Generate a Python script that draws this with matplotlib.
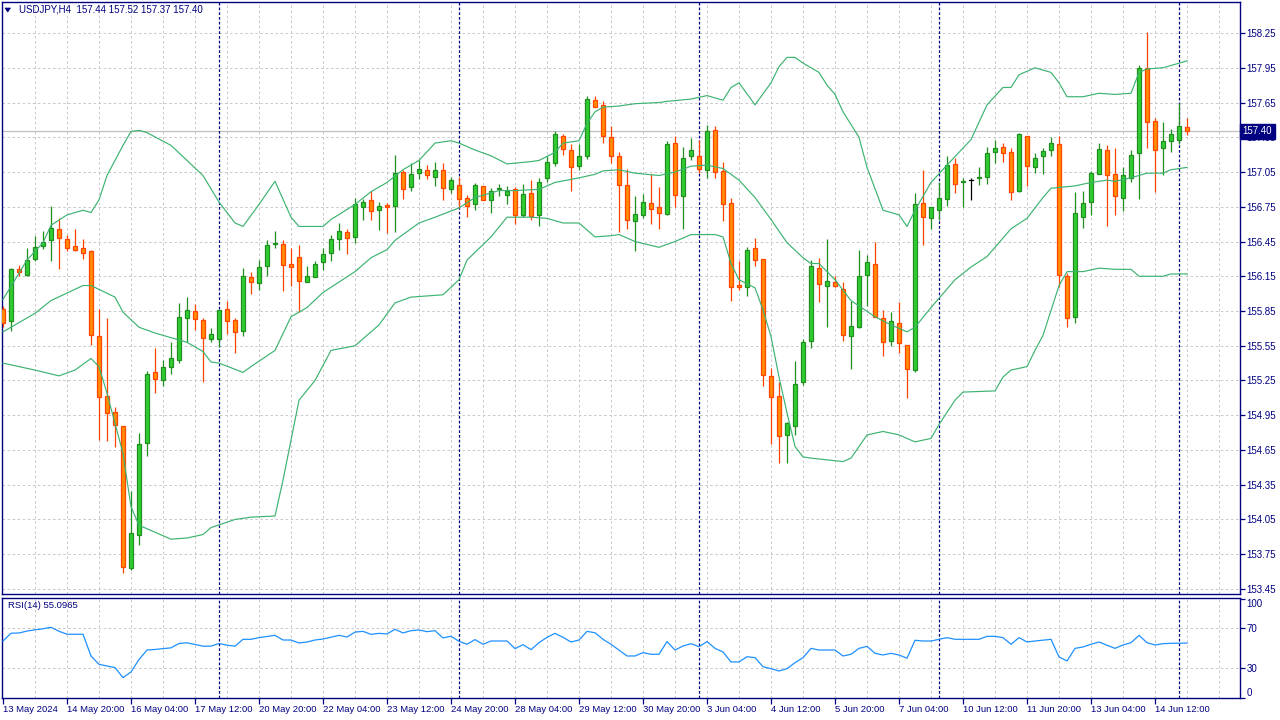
import matplotlib
matplotlib.use("Agg")
import matplotlib.pyplot as plt
import matplotlib.transforms as mtransforms
from matplotlib.patches import Rectangle, Polygon

plt.rcParams['font.family'] = ['Liberation Sans', 'DejaVu Sans']

# ---------------- data (USDJPY, H4) ----------------
opens = [155.865,155.76,156.21,156.16,156.30,156.41,156.46,156.56,156.47,156.41,
         156.39,156.37,155.63,155.12,154.98,154.86,153.63,153.92,154.71,155.32,
         155.25,155.37,155.43,155.79,155.85,155.77,155.61,155.61,155.87,155.77,
         155.68,156.14,156.09,156.24,156.43,156.43,156.26,156.32,156.10,156.14,
         156.27,156.35,156.47,156.53,156.49,156.75,156.81,156.72,156.765,156.76,
         157.05,156.92,157.04,157.07,157.01,157.07,156.90,156.94,156.83,156.77,
         156.93,156.81,156.90,156.85,156.90,156.68,156.87,156.68,157.00,157.13,
         157.36,157.24,157.10,157.19,157.67,157.63,157.35,157.19,156.94,156.63,
         156.68,156.78,156.745,156.69,157.30,156.84,157.19,157.19,157.07,157.41,
         157.06,156.78,156.075,156.06,156.39,156.30,155.29,155.12,154.78,154.86,
         155.24,155.59,156.22,156.07,156.10,156.04,155.63,155.71,156.16,156.26,
         155.79,155.59,155.75,155.56,155.34,156.78,156.65,156.72,156.82,157.12,
         156.965,156.98,157.00,157.01,157.22,157.27,157.22,156.89,157.36,157.09,
         157.19,157.24,157.29,156.15,155.80,156.66,156.79,157.03,157.24,157.03,
         156.83,157.00,157.21,157.95,157.49,157.26,157.32,157.33,157.44]
highs = [155.89,156.22,156.25,156.39,156.50,156.54,156.76,156.65,156.51,156.56,
         156.47,156.38,155.87,155.79,155.02,154.86,154.30,154.80,155.33,155.53,
         155.43,155.58,155.92,155.97,155.91,155.79,155.70,155.86,155.94,155.79,
         156.22,156.19,156.29,156.46,156.54,156.46,156.39,156.42,156.24,156.28,
         156.39,156.51,156.61,156.56,156.83,156.82,156.89,156.79,156.78,157.20,
         157.07,157.13,157.15,157.11,157.14,157.13,157.01,157.01,156.85,156.955,
         156.93,156.91,156.95,156.93,156.92,156.95,156.98,157.00,157.19,157.40,
         157.38,157.29,157.29,157.71,157.71,157.66,157.45,157.22,157.08,156.84,
         156.86,157.03,156.92,157.32,157.36,157.27,157.34,157.33,157.46,157.45,
         157.14,156.83,156.28,156.40,156.48,156.30,155.36,155.24,154.89,155.42,
         155.61,156.29,156.31,156.47,156.15,156.10,155.94,156.38,156.33,156.45,
         155.86,155.84,155.93,155.56,156.87,157.07,156.75,156.96,157.19,157.17,
         157.00,156.995,157.09,157.27,157.33,157.30,157.26,157.39,157.36,157.21,
         157.255,157.35,157.36,156.18,156.88,156.89,157.06,157.30,157.28,157.26,
         157.09,157.24,157.97,158.26,157.52,157.48,157.42,157.65,157.52]
lows = [155.71,155.68,156.15,156.15,156.28,156.385,156.28,156.21,156.37,156.37,
        156.30,155.56,154.74,154.73,154.68,153.59,153.61,153.83,154.60,155.14,
        155.20,155.31,155.40,155.58,155.69,155.24,155.58,155.54,155.65,155.49,
        155.63,156.00,156.03,156.15,156.39,156.02,156.07,155.84,156.10,156.14,
        156.20,156.28,156.38,156.34,156.44,156.64,156.64,156.55,156.52,156.53,
        156.82,156.89,156.99,156.99,156.93,156.81,156.87,156.74,156.66,156.72,
        156.81,156.70,156.84,156.77,156.60,156.66,156.64,156.58,156.96,157.10,
        157.20,156.89,157.07,157.16,157.61,157.30,157.13,156.53,156.56,156.37,
        156.65,156.60,156.56,156.68,156.75,156.56,157.15,157.04,157.00,157.00,
        156.63,155.94,156.03,155.98,156.24,155.20,154.70,154.54,154.54,154.78,
        155.21,155.53,155.93,155.71,156.06,155.59,155.35,155.70,155.89,155.80,
        155.46,155.55,155.49,155.10,155.32,156.42,156.56,156.64,156.76,156.87,
        156.75,156.81,156.94,156.95,157.125,157.14,156.81,156.88,156.93,157.04,
        157.03,157.19,156.06,155.71,155.75,156.57,156.68,157.03,156.58,156.68,
        156.71,156.96,156.82,157.26,156.88,157.02,157.22,157.29,157.37]
closes = [155.75,156.21,156.19,156.29,156.40,156.45,156.57,156.48,156.39,156.38,
          156.35,155.64,155.11,154.97,154.87,153.64,153.93,154.70,155.31,155.26,
          155.37,155.44,155.80,155.86,155.78,155.62,155.65,155.86,155.76,155.67,
          156.15,156.10,156.23,156.42,156.44,156.25,156.23,156.11,156.15,156.26,
          156.34,156.47,156.54,156.48,156.77,156.79,156.71,156.76,156.75,157.04,
          156.90,157.03,157.08,157.02,157.07,156.91,156.98,156.82,156.76,156.94,
          156.81,156.89,156.91,156.89,156.68,156.86,156.67,156.96,157.14,157.38,
          157.25,157.09,157.19,157.68,157.61,157.36,157.19,156.94,156.64,156.69,
          156.79,156.73,156.70,157.29,156.85,157.17,157.24,157.08,157.40,157.05,
          156.77,156.06,156.055,156.38,156.29,155.30,155.11,154.77,154.88,155.22,
          155.58,156.24,156.08,156.11,156.07,155.64,155.72,156.15,156.27,155.80,
          155.58,155.76,155.57,155.35,156.77,156.66,156.75,156.83,157.11,156.95,
          156.975,156.98,157.01,157.21,157.26,157.21,156.88,157.38,157.10,157.17,
          157.23,157.30,156.16,155.79,156.70,156.78,157.04,157.25,157.02,156.84,
          157.02,157.20,157.95,157.48,157.24,157.32,157.38,157.45,157.40]

# Bollinger bands (20) at selected bars
bb_upper_idx = [0,3,5,6,8,10,11,12,13,15,16,17,18,21,23,25,27,29,30,32,
                34,36,37,40,41,44,46,48,50,52,54,56,57,59,61,63,66,67,69,70,
                72,73,74,75,77,79,82,83,86,88,90,91,92,94,96,97,98,99,100,102,
                103,104,105,107,108,110,112,113,114,116,118,121,123,125,126,127,129,131,132,133,
                135,137,139,141,142,143,145,146,147,148]
bb_upper = [155.95,156.29,156.44,156.59,156.68,156.72,156.70,156.81,157.02,157.28,
            157.40,157.41,157.39,157.28,157.15,157.02,156.79,156.61,156.58,156.77,
            156.97,156.66,156.58,156.58,156.64,156.77,156.88,156.96,157.07,157.15,
            157.30,157.32,157.30,157.24,157.19,157.12,157.14,157.15,157.22,157.30,
            157.32,157.47,157.57,157.61,157.62,157.64,157.65,157.66,157.68,157.71,
            157.67,157.78,157.82,157.63,157.82,157.96,158.04,158.04,157.99,157.91,
            157.80,157.72,157.57,157.35,157.09,156.72,156.68,156.58,156.72,156.96,
            157.11,157.33,157.63,157.78,157.78,157.89,157.95,157.91,157.82,157.70,
            157.70,157.73,157.72,157.73,157.91,157.94,157.95,157.97,157.99,158.01]
bb_mid_idx = [0,4,6,10,11,14,15,17,19,23,25,26,27,30,31,34,36,38,40,42,
              44,46,48,49,51,52,54,57,59,62,64,67,69,72,74,75,77,79,82,84,
              86,88,90,92,94,96,98,100,101,102,104,106,109,111,113,114,116,119,121,123,
              125,126,128,130,131,134,136,138,139,141,143,145,146,148]
bb_mid = [155.67,155.83,155.94,156.07,156.07,155.97,155.84,155.71,155.66,155.58,
          155.50,155.41,155.40,155.32,155.37,155.51,155.80,155.88,156.01,156.10,
          156.19,156.31,156.38,156.46,156.56,156.61,156.66,156.74,156.83,156.89,
          156.89,156.90,156.96,157.00,157.03,157.06,157.07,157.04,157.02,157.05,
          157.10,157.11,157.08,156.98,156.83,156.64,156.44,156.31,156.26,156.26,
          156.12,155.94,155.80,155.73,155.67,155.71,155.88,156.12,156.23,156.32,
          156.48,156.56,156.65,156.83,156.91,156.93,156.96,156.98,156.97,157.00,
          157.04,157.04,157.07,157.09]
bb_lower_idx = [0,4,7,9,11,12,13,15,16,17,21,23,25,26,29,31,34,35,37,39,
                41,44,46,47,49,51,55,57,58,61,63,66,68,70,72,74,76,77,79,82,
                84,86,89,90,91,92,94,95,96,97,98,99,100,101,105,106,108,110,112,114,
                116,117,119,120,124,125,126,128,129,130,132,133,135,137,139,141,142,145,146,148]
bb_lower = [155.40,155.34,155.29,155.34,155.44,155.37,155.14,154.62,154.16,154.00,
            153.88,153.89,153.92,153.98,154.05,154.07,154.08,154.39,155.08,155.25,
            155.51,155.55,155.67,155.73,155.92,155.97,155.99,156.12,156.29,156.49,
            156.66,156.66,156.65,156.61,156.61,156.49,156.50,156.51,156.45,156.40,
            156.45,156.51,156.51,156.49,156.26,156.12,156.05,155.86,155.63,155.28,
            154.97,154.68,154.59,154.58,154.55,154.58,154.78,154.81,154.78,154.72,
            154.75,154.87,155.08,155.15,155.16,155.28,155.34,155.37,155.51,155.64,
            156.07,156.19,156.19,156.22,156.21,156.21,156.15,156.15,156.17,156.17]

# RSI(14)
rsi_idx = [0,1,2,3,4,5,6,7,8,9,10,11,12,13,14,15,16,17,18,19,
           21,22,23,24,25,26,27,28,29,30,31,32,34,35,36,37,38,39,40,42,
           43,44,45,46,47,48,49,50,51,52,53,54,55,56,57,58,59,60,61,63,
           64,65,66,67,68,69,70,71,72,73,74,75,76,77,78,79,80,81,82,83,
           84,85,86,87,88,89,90,91,92,93,94,95,96,97,98,99,100,101,102,104,
           105,106,107,108,109,110,111,112,113,114,115,116,117,118,119,122,123,124,125,126,
           127,128,129,131,132,133,134,135,136,137,138,139,140,141,142,143,144,145,146,148]
rsi_val = [57.2,65.0,65.3,67.2,68.5,69.5,71.0,67.0,64.0,64.0,64.0,42.1,33.7,32.1,30.4,20.3,26.0,38.6,48.1,48.7,
           50.3,54.7,55.4,53.7,52.0,52.0,54.7,53.0,52.0,58.9,58.9,60.6,62.9,58.2,58.2,55.2,56.2,58.2,59.2,62.9,
           61.2,66.2,66.9,63.9,64.9,64.3,69.0,65.3,67.6,68.3,66.6,67.6,60.3,62.0,56.9,53.9,58.6,53.9,57.2,57.2,
           49.5,53.5,48.5,55.5,60.9,64.9,60.9,56.2,58.2,66.9,65.5,58.9,53.9,48.0,42.1,42.1,45.5,43.8,43.8,56.6,
           48.1,52.2,54.5,51.5,56.6,49.8,46.1,36.1,36.1,41.4,40.4,31.3,29.3,27.0,29.3,35.4,40.4,49.8,48.1,48.1,
           42.1,43.8,49.8,51.8,44.8,43.1,44.8,43.1,39.8,57.9,57.2,57.2,58.9,60.6,58.9,58.9,61.9,61.9,60.6,53.9,
           60.6,56.2,57.2,58.9,41.1,37.1,49.8,51.2,53.9,56.2,52.9,49.8,53.2,55.5,62.9,55.5,53.2,54.5,54.9,55.1]

price_ticks = [153.45,153.75,154.05,154.35,154.65,154.95,155.25,155.55,155.85,
               156.15,156.45,156.75,157.05,157.35,157.65,157.95,158.25]
time_tick_idx = [0,8,16,24,32,40,48,56,64,72,80,88,96,104,112,120,128,136,144]
time_tick_labels = ["13 May 2024","14 May 20:00","16 May 04:00","17 May 12:00",
                    "20 May 20:00","22 May 04:00","23 May 12:00","24 May 20:00",
                    "28 May 04:00","29 May 12:00","30 May 20:00","3 Jun 04:00",
                    "4 Jun 12:00","5 Jun 20:00","7 Jun 04:00","10 Jun 12:00",
                    "11 Jun 20:00","13 Jun 04:00","14 Jun 12:00"]
week_sep_idx = [27, 57, 87, 117, 147]
rsi_levels = [30, 70]
rsi_ticks = [0, 30, 70, 100]
symbol = "USDJPY,H4"
last_bid = 157.40
rsi_last = "55.0965"

# ---------------- styling ----------------
NAVY = "#000080"
GRID = "#c8c8c8"
BULL_FILL, BULL_EDGE = "#32cd32", "#1f8f1f"
BEAR_FILL, BEAR_EDGE = "#ff8c00", "#ff4500"
BAND = "#3cb371"
RSI_C = "#1e90ff"

W, H = 1280, 720
fig = plt.figure(figsize=(W / 100, H / 100), dpi=100)
fig.patch.set_facecolor("white")

def fx(px):
    return px / W

def fy(py):
    return 1 - py / H

ax = fig.add_axes([fx(2), fy(594.3), fx(1239.5) - fx(2), fy(2) - fy(594.3)])
ax2 = fig.add_axes([fx(2), fy(698), fx(1239.5) - fx(2), fy(597.7) - fy(698)])

xl = (-0.125, 154.56)
ax.set_xlim(*xl)
ax2.set_xlim(*xl)
ax.set_ylim(153.404, 158.518)
ax2.set_ylim(-0.23, 100.83)

n = len(closes)
grid_x = list(range(4, 156, 4))
dash_grid = (0, (2.6, 2.6))
for a in (ax, ax2):
    for gx in grid_x:
        a.axvline(gx, color=GRID, lw=0.7, ls=dash_grid, zorder=0.5)
    for sx in week_sep_idx:
        a.axvline(sx, color=NAVY, lw=0.9, ls=(0, (2.2, 1.6)), zorder=1)
    for s in a.spines.values():
        s.set_color(NAVY)
        s.set_linewidth(1.0)
    a.set_facecolor("white")

for p in price_ticks:
    ax.axhline(p, color=GRID, lw=0.7, ls=dash_grid, zorder=0.5)
for lv in rsi_levels:
    ax2.axhline(lv, color=GRID, lw=0.7, ls=dash_grid, zorder=0.5)

# bid line
ax.axhline(last_bid, color="#c0c0c0", lw=0.9, zorder=0.8)

# candles
bw = 0.6
for i in range(n):
    o, h, l, c = opens[i], highs[i], lows[i], closes[i]
    if c > o:
        fc, ec = BULL_FILL, BULL_EDGE
    elif c < o:
        fc, ec = BEAR_FILL, BEAR_EDGE
    else:
        fc, ec = "black", "black"
    ax.plot([i, i], [l, h], color=ec, lw=0.9, zorder=3, solid_capstyle="butt")
    if c == o:
        ax.plot([i - bw / 2, i + bw / 2], [o, o], color=ec, lw=0.9, zorder=3.1)
    else:
        ax.add_patch(Rectangle((i - bw / 2, min(o, c)), bw, abs(c - o),
                               facecolor=fc, edgecolor=ec, lw=0.9, zorder=3.1))

# bands
ax.plot(bb_upper_idx, bb_upper, color=BAND, lw=0.85, zorder=4)
ax.plot(bb_mid_idx, bb_mid, color=BAND, lw=0.85, zorder=4)
ax.plot(bb_lower_idx, bb_lower, color=BAND, lw=0.85, zorder=4)

# RSI
ax2.plot(rsi_idx, rsi_val, color=RSI_C, lw=0.9, zorder=4)

# axes ticks
ax.set_xticks([])
ax.yaxis.tick_right()
ax.set_yticks(price_ticks)
ax.set_yticklabels([f"{p:.2f}" for p in price_ticks])
ax.tick_params(axis="y", length=3.5, width=0.9, color=NAVY, labelcolor=NAVY,
               labelsize=7, pad=1.5)

ax2.yaxis.tick_right()
ax2.set_yticks(rsi_ticks)
ax2.set_yticklabels([str(t) for t in rsi_ticks])
ax2.tick_params(axis="y", length=3.5, width=0.9, color=NAVY, labelcolor=NAVY,
                labelsize=7, pad=1.5)
for t in ax2.get_yticklabels():
    if t.get_text() == "0":
        t.set_va("bottom")
    elif t.get_text() == "100":
        t.set_va("top")

ax2.set_xticks(time_tick_idx)
ax2.set_xticklabels(time_tick_labels, ha="left")
ax2.tick_params(axis="x", length=4, width=0.9, color=NAVY, labelcolor=NAVY,
                labelsize=6.8, pad=1.0)

# current price box
trans = mtransforms.blended_transform_factory(ax.transAxes, ax.transData)
trans = trans + mtransforms.ScaledTranslation(3 / 100, 0, fig.dpi_scale_trans)
ax.text(1.0, last_bid, f"{last_bid:.2f}", transform=trans, ha="left", va="center",
        color="white", fontsize=7, zorder=10, clip_on=False,
        bbox=dict(boxstyle="square,pad=0.28", fc=NAVY, ec=NAVY))

# header
fig.text(fx(19), fy(10), f"{symbol}  {opens[-1]:.2f} {highs[-1]:.2f} {lows[-1]:.2f} {closes[-1]:.2f}",
         color=NAVY, fontsize=7, va="center", ha="left")
tri = Polygon([[fx(5), fy(8)], [fx(10.5), fy(8)], [fx(7.75), fy(12)]], closed=True,
              transform=fig.transFigure, fc=NAVY, ec=NAVY, lw=0.5)
fig.patches.append(tri)
fig.text(fx(8), fy(606), f"RSI(14) {rsi_last}", color=NAVY, fontsize=6.8,
         va="center", ha="left")

fig.savefig("out.png", dpi=100)
